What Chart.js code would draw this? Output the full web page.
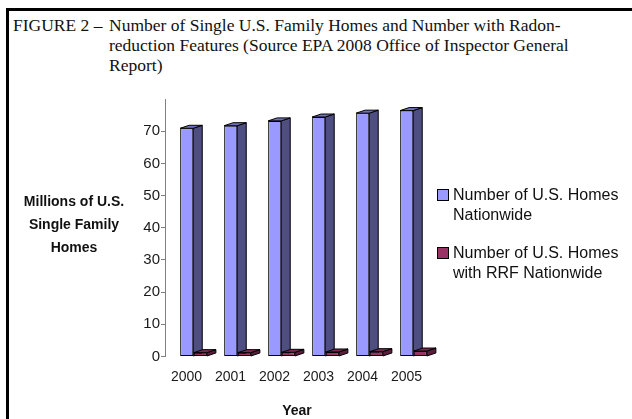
<!DOCTYPE html>
<html>
<head>
<meta charset="utf-8">
<script src="https://cdn.jsdelivr.net/npm/chart.js@4.4.0/dist/chart.umd.min.js"></script>
<style>
  html, body { margin: 0; padding: 0; background: #fff; }
  body { width: 632px; height: 419px; position: relative; overflow: hidden; }
  #frame { position: absolute; left: 6px; top: 8px; width: 700px; height: 500px;
    border-top: 3px solid #000; border-left: 3px solid #000; }
  #chart { position: absolute; left: 0; top: 0; }
  .serif { font-family: 'Liberation Serif', 'Times New Roman', serif; font-size: 17.5px; line-height: 20px; color: #111; white-space: nowrap; position: absolute; }
  .sans { font-family: 'Liberation Sans', Arial, sans-serif; color: #111; white-space: nowrap; position: absolute; }
  #fig { left: 13px; top: 15px; }
  #caption { left: 109px; top: 15px; }
  #ytitle { left: 18px; top: 190px; width: 112px; text-align: center; font-weight: bold; font-size: 14px; line-height: 23px; }
  #xtitle { left: 247px; top: 402px; width: 100px; text-align: center; font-weight: bold; font-size: 14px; }
  #legend { left: 437px; top: 185px; font-size: 16px; line-height: 20px; }
  .item { position: relative; padding-left: 16px; margin-bottom: 18px; }
  .box { position: absolute; left: 0; top: 4px; width: 10px; height: 10px; border: 1px solid #000; }
</style>
</head>
<body>
<div id="frame"></div>
<div id="fig" class="serif">FIGURE 2 –</div>
<div id="caption" class="serif">Number of Single U.S. Family Homes and Number with Radon-<br>reduction Features (Source EPA 2008 Office of Inspector General<br>Report)</div>
<canvas id="chart" width="632" height="419"></canvas>
<div id="ytitle" class="sans">Millions of U.S.<br>Single Family<br>Homes</div>
<div id="xtitle" class="sans">Year</div>
<div id="legend" class="sans"></div>
<script>
// data (millions of homes)
const years = [2000, 2001, 2002, 2003, 2004, 2005]
const homesNationwide = [70.9, 71.7, 73.2, 74.4, 75.6, 76.4]
const homesWithRRF = [1.2, 1.2, 1.3, 1.4, 1.5, 1.7]
const seriesNames = ['Number of U.S. Homes\nNationwide', 'Number of U.S. Homes\nwith RRF Nationwide']
const yTicks = [0, 10, 20, 30, 40, 50, 60, 70, 80]

// front / side / top faces of the pseudo 3D bars
const faces = [
    { front: '#9999FF', side: '#4E4E82', top: '#7070BC' },
    { front: '#993366', side: '#5A1D3B', top: '#7A2A52' }
]
const DX = 9
const DY = -3

const depthPlugin = {
    id: 'depth',
    beforeDatasetsDraw(chart) {
        const ctx = chart.ctx
        chart.data.datasets.forEach((ds, i) => {
            const meta = chart.getDatasetMeta(i)
            meta.data.forEach(bar => {
                const { x, y, base, width } = bar.getProps(['x', 'y', 'base', 'width'], true)
                const l = x - width / 2
                const r = x + width / 2
                ctx.save()
                ctx.lineWidth = 1
                ctx.strokeStyle = '#000'
                ctx.lineJoin = 'round'
                // side face
                ctx.beginPath()
                ctx.moveTo(r, y)
                ctx.lineTo(r + DX, y + DY)
                ctx.lineTo(r + DX, base + DY)
                ctx.lineTo(r, base)
                ctx.closePath()
                ctx.fillStyle = faces[i].side
                ctx.fill()
                ctx.stroke()
                // top face
                ctx.beginPath()
                ctx.moveTo(l, y)
                ctx.lineTo(l + DX, y + DY)
                ctx.lineTo(r + DX, y + DY)
                ctx.lineTo(r, y)
                ctx.closePath()
                ctx.fillStyle = faces[i].top
                ctx.fill()
                ctx.stroke()
                ctx.restore()
            })
        })
    }
}

const cfChart = {
    type: 'bar',
    data: {
        datasets: [
            {
                label: seriesNames[0],
                data: years.map((yr, i) => ({ x: yr, y: homesNationwide[i] })),
                backgroundColor: faces[0].front,
                borderColor: '#000',
                borderWidth: 1,
                borderSkipped: false
            }, {
                label: seriesNames[1],
                data: years.map((yr, i) => ({ x: yr, y: homesWithRRF[i] })),
                backgroundColor: faces[1].front,
                borderColor: '#000',
                borderWidth: 1,
                borderSkipped: false
            }
        ]
    },
    options: {
        responsive: false,
        animation: false,
        categoryPercentage: 0.62,
        barPercentage: 0.96,
        layout: { padding: { top: 99, right: 202, left: 0, bottom: 0 } },
        plugins: { legend: { display: false }, tooltip: { enabled: false } },
        scales: {
            x: {
                type: 'linear',
                min: 1999.352,
                max: 2005.375,
                offset: false,
                grid: { display: false, drawTicks: false, offset: false },
                border: { display: false },
                afterBuildTicks: s => { s.ticks = years.map(v => ({ value: v })) },
                afterFit: s => { s.height = 62.5 },
                ticks: {
                    callback: v => String(v),
                    labelOffset: -7,
                    padding: 12,
                    color: '#1a1a1a',
                    font: { family: 'Liberation Sans', size: 14 }
                }
            },
            y: {
                min: 0,
                max: 80,
                afterBuildTicks: s => { s.ticks = yTicks.map(v => ({ value: v })) },
                afterFit: s => { s.width = 165 },
                grid: {
                    drawOnChartArea: false,
                    tickLength: 4,
                    tickColor: c => c.tick && c.tick.value === 80 ? 'rgba(0,0,0,0)' : '#808080'
                },
                border: { color: '#808080', width: 1 },
                ticks: {
                    callback: v => v === 80 ? '' : v,
                    padding: 1,
                    color: '#1a1a1a',
                    font: { family: 'Liberation Sans', size: 15 }
                }
            }
        }
    },
    plugins: [depthPlugin]
}

new Chart(document.getElementById('chart').getContext('2d'), cfChart)

// legend with two-line labels
const legend = document.getElementById('legend')
seriesNames.forEach((name, i) => {
    const item = document.createElement('div')
    item.className = 'item'
    const box = document.createElement('span')
    box.className = 'box'
    box.style.background = faces[i].front
    item.appendChild(box)
    name.split('\n').forEach((line, j) => {
        if (j) item.appendChild(document.createElement('br'))
        item.appendChild(document.createTextNode(line))
    })
    legend.appendChild(item)
})
</script>
</body>
</html>
